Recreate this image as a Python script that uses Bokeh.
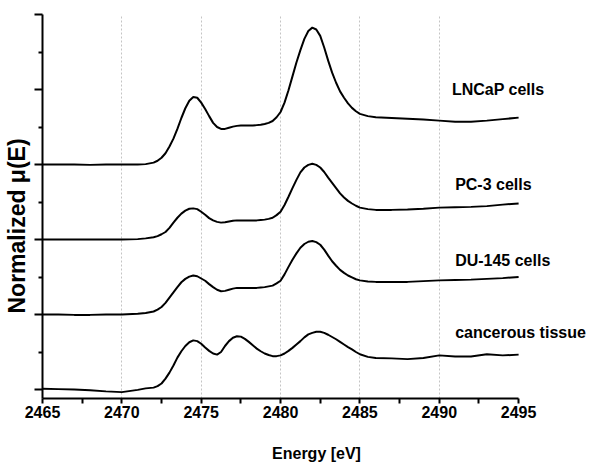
from bokeh.plotting import figure
from bokeh.models import Range1d, FixedTicker, Label, Title, CustomLabelingPolicy
from bokeh.embed import file_html
from bokeh.resources import INLINE

# Photon energy grid [eV]
energy = [2465, 2466, 2467, 2468, 2469, 2470, 2471, 2471.5,
          2472, 2472.25, 2472.5, 2472.75, 2473, 2473.25, 2473.5, 2473.75,
          2474, 2474.25, 2474.5, 2474.75, 2475, 2475.25, 2475.5, 2475.75,
          2476, 2476.25, 2476.5, 2476.75, 2477, 2477.25, 2477.5, 2477.75,
          2478, 2478.25, 2478.5, 2478.75, 2479, 2479.25, 2479.5, 2479.75,
          2480, 2480.25, 2480.5, 2480.75, 2481, 2481.25, 2481.5, 2481.75,
          2482, 2482.25, 2482.5, 2482.75, 2483, 2483.25, 2483.5, 2483.75,
          2484, 2484.25, 2484.5, 2484.75, 2485, 2485.5, 2486,
          2487, 2488, 2489, 2490, 2491, 2492, 2493, 2494, 2495]

# Normalized mu(E) for each sample
lncap = [0.00, 0.00, 0.00, -0.01, 0.00, 0.00, 0.00, 0.01,
         0.05, 0.10, 0.18, 0.30, 0.48, 0.69, 0.95, 1.24,
         1.50, 1.70, 1.80, 1.78, 1.65, 1.48, 1.29, 1.11,
         1.00, 0.95, 0.95, 0.98, 1.01, 1.03, 1.04, 1.04,
         1.04, 1.04, 1.05, 1.06, 1.08, 1.11, 1.16, 1.26,
         1.40, 1.65, 1.98, 2.35, 2.72, 3.05, 3.35, 3.56,
         3.65, 3.60, 3.43, 3.12, 2.77, 2.45, 2.18, 1.95,
         1.78, 1.63, 1.51, 1.42, 1.35, 1.29, 1.26,
         1.24, 1.22, 1.20, 1.17, 1.14, 1.14, 1.17, 1.21, 1.25]
pc3 = [0.00, 0.00, 0.00, 0.00, 0.00, 0.00, 0.01, 0.03,
       0.06, 0.09, 0.14, 0.20, 0.31, 0.45, 0.58, 0.69,
       0.77, 0.82, 0.83, 0.81, 0.74, 0.66, 0.57, 0.51,
       0.47, 0.45, 0.46, 0.48, 0.50, 0.51, 0.51, 0.51,
       0.51, 0.51, 0.51, 0.52, 0.53, 0.55, 0.58, 0.65,
       0.74, 0.92, 1.14, 1.37, 1.59, 1.79, 1.92, 1.99,
       2.02, 1.99, 1.92, 1.80, 1.65, 1.51, 1.37, 1.23,
       1.12, 1.03, 0.96, 0.90, 0.85, 0.81, 0.79,
       0.79, 0.80, 0.82, 0.85, 0.86, 0.87, 0.89, 0.93, 0.96]
du145 = [0.00, 0.00, -0.01, -0.01, 0.00, 0.00, 0.02, 0.04,
         0.08, 0.13, 0.20, 0.31, 0.45, 0.59, 0.73, 0.86,
         0.95, 1.01, 1.04, 1.02, 0.96, 0.90, 0.81, 0.73,
         0.66, 0.62, 0.63, 0.66, 0.69, 0.71, 0.71, 0.71,
         0.71, 0.71, 0.71, 0.72, 0.73, 0.75, 0.77, 0.83,
         0.90, 1.07, 1.27, 1.46, 1.63, 1.78, 1.88, 1.94,
         1.96, 1.93, 1.86, 1.73, 1.57, 1.42, 1.30, 1.19,
         1.11, 1.04, 0.99, 0.94, 0.91, 0.88, 0.87,
         0.87, 0.87, 0.89, 0.91, 0.92, 0.93, 0.95, 0.97, 1.00]
tissue = [0.02, 0.01, 0.00, -0.02, -0.05, -0.07, -0.01, 0.03,
          0.05, 0.09, 0.16, 0.29, 0.45, 0.64, 0.85, 1.02,
          1.16, 1.26, 1.31, 1.29, 1.22, 1.12, 1.03, 0.96,
          0.93, 1.00, 1.16, 1.29, 1.38, 1.42, 1.41, 1.35,
          1.27, 1.18, 1.09, 1.02, 0.96, 0.92, 0.89, 0.89,
          0.91, 0.96, 1.03, 1.11, 1.20, 1.29, 1.39, 1.47,
          1.51, 1.54, 1.54, 1.51, 1.46, 1.40, 1.34, 1.27,
          1.20, 1.13, 1.07, 1.00, 0.94, 0.87, 0.84,
          0.83, 0.81, 0.84, 0.91, 0.88, 0.88, 0.94, 0.91, 0.93]

series = [lncap, pc3, du145, tissue]
names = ["LNCaP cells", "PC-3 cells", "DU-145 cells", "cancerous tissue"]
offsets = [6, 4, 2, 0]
label_y = [8.0, 5.47, 3.45, 1.51]
label_x = [2490.8, 2491.0, 2491.0, 2491.0]

x_major = [2465, 2470, 2475, 2480, 2485, 2490, 2495]
x_minor = [2467.5, 2472.5, 2477.5, 2482.5, 2487.5, 2492.5]
grid_x = [2470, 2475, 2480, 2485, 2490]
y_major = [0, 2, 4, 6, 8, 10]
y_minor = [1, 3, 5, 7, 9]

FONT = "Liberation Sans"

p = figure(width=590, height=464,
           x_range=Range1d(2465, 2499.53), y_range=Range1d(-0.24, 10),
           output_backend="svg", toolbar_location=None,
           min_border_left=41, min_border_right=0,
           min_border_top=14, min_border_bottom=64)
p.outline_line_color = None
p.background_fill_color = "white"
p.border_fill_color = "white"

for vals, off in zip(series, offsets):
    p.line(energy, [v + off for v in vals], line_color="black", line_width=2)

for name, lx, ly in zip(names, label_x, label_y):
    p.add_layout(Label(x=lx, y=ly, text=name, text_font=FONT,
                       text_font_style="bold", text_font_size="16px",
                       text_baseline="middle", text_align="left",
                       text_color="black"))

# grid
p.ygrid.visible = False
p.xgrid.ticker = FixedTicker(ticks=grid_x)
p.xgrid.grid_line_color = "#c4c4c4"
p.xgrid.grid_line_dash = "2 2"
p.xgrid.grid_line_width = 1

# x axis
xa = p.xaxis[0]
xa.bounds = (2465, 2495)
xa.ticker = FixedTicker(ticks=x_major, minor_ticks=x_minor)
xa.axis_line_width = 2
xa.major_tick_line_width = 2
xa.minor_tick_line_width = 2
xa.major_tick_in = 0
xa.major_tick_out = 5
xa.minor_tick_in = 0
xa.minor_tick_out = 5
xa.major_label_text_font = FONT
xa.major_label_text_font_style = "bold"
xa.major_label_text_font_size = "16px"
xa.major_label_text_color = "black"
xa.major_label_standoff = 2
xa.axis_label = "Energy [eV]"
xa.axis_label_text_font = FONT
xa.axis_label_text_font_style = "bold"
xa.axis_label_text_font_size = "16px"
xa.axis_label_text_color = "black"
xa.axis_label_standoff = 24

# y axis: ticks only, no tick labels
ya = p.yaxis[0]
ya.ticker = FixedTicker(ticks=y_major, minor_ticks=y_minor)
ya.axis_line_width = 2
ya.major_tick_line_width = 2
ya.minor_tick_line_width = 2
ya.major_tick_in = 0
ya.major_tick_out = 8
ya.minor_tick_in = 0
ya.minor_tick_out = 4
ya.major_label_text_font_size = "1px"
ya.major_label_standoff = 0
ya.major_label_policy = CustomLabelingPolicy(
    code="for (const i of Array.from(indices)) { indices.unset(i) }\nreturn indices")

ytitle = Title(text="Normalized μ(E)", align="left", offset=85,
               text_font=FONT, text_font_style="bold",
               text_font_size="23px", text_color="black", standoff=2)
p.add_layout(ytitle, "left")

open("out.html", "w").write(file_html(p, INLINE))
